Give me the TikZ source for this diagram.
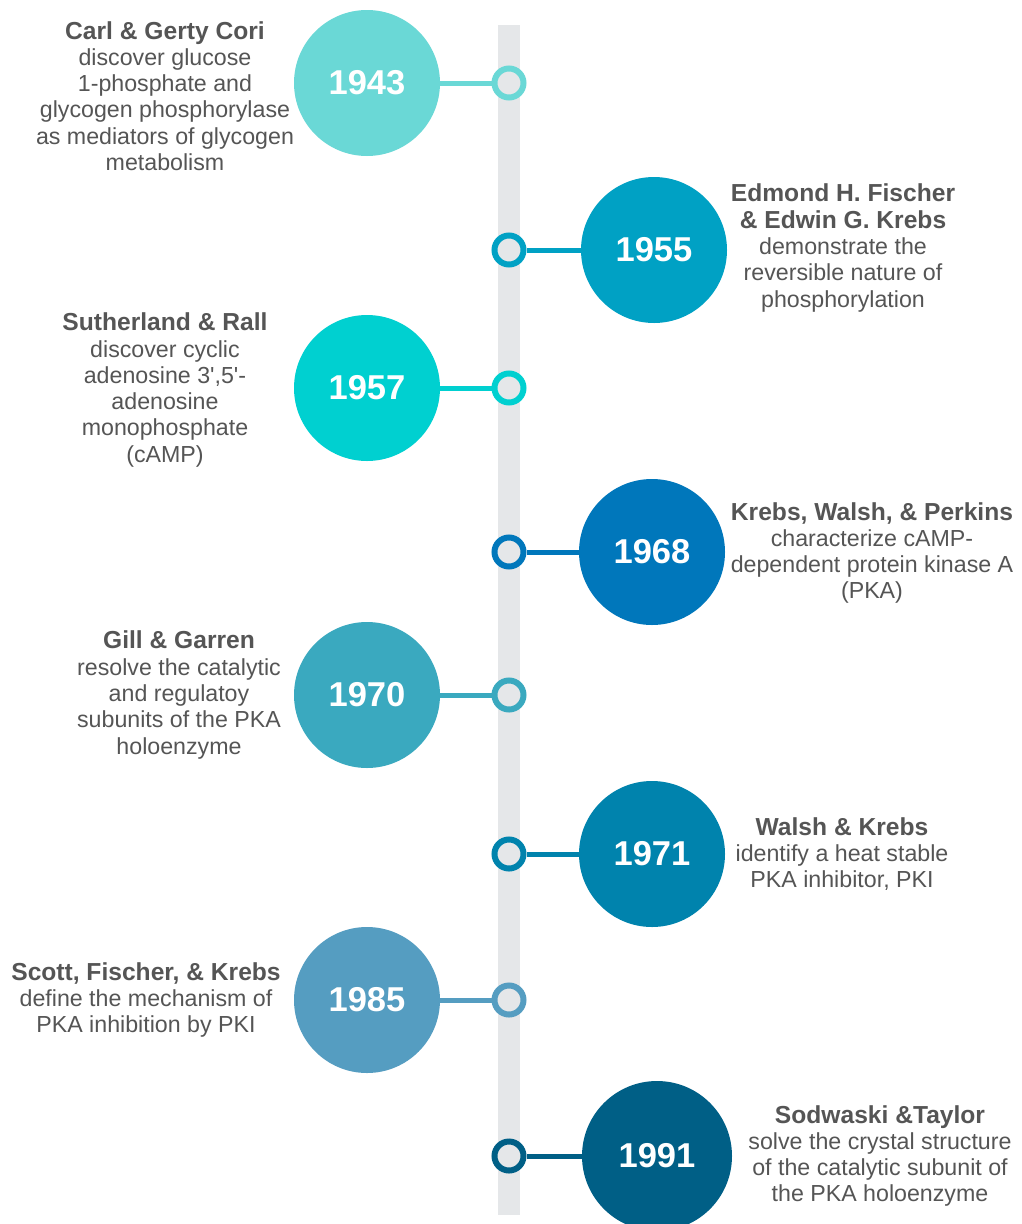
\documentclass[tikz,border=0pt]{standalone}
\usepackage{fontspec}
\setmainfont{Liberation Sans}
\definecolor{txt}{HTML}{555555}
\definecolor{barc}{HTML}{E5E7E9}
\definecolor{ca}{HTML}{6AD8D6}
\definecolor{cb}{HTML}{00A1C4}
\definecolor{cc}{HTML}{00D0D0}
\definecolor{cd}{HTML}{0077BB}
\definecolor{ce}{HTML}{3AA9BF}
\definecolor{cf}{HTML}{0083AD}
\definecolor{cg}{HTML}{559DC1}
\definecolor{ch}{HTML}{005F86}
\begin{document}
\begin{tikzpicture}[x=1pt,y=-1pt,
  yearc/.style={circle, minimum size=146pt, inner sep=0pt, text=white, font=\fontsize{34.5}{38}\selectfont\bfseries},
  ring/.style={circle, minimum size=29pt, inner sep=0pt, line width=6pt, fill=barc},
  conn/.style={line width=5pt},
  desc/.style={align=center, text=txt, font=\fontsize{23.2}{26.3}\selectfont, inner sep=0pt}]
\newcommand{\ttlt}[1]{{\fontsize{24.6}{28.5}\selectfont\bfseries #1}}
\useasboundingbox[fill=white] (0,0) rectangle (1021,1224);
\fill[barc] (498,25) rectangle (520,1215);
% 1943
\node[yearc, fill=ca] (y1) at (367,83) {1943};
\node[ring, draw=ca] (r1) at (509,83) {};
\draw[conn, ca] (r1) -- (y1);
\node[desc] (t1) at (165,96) {\ttlt{Carl \& Gerty Cori}\\discover glucose\\1-phosphate and\\glycogen phosphorylase\\as mediators of glycogen\\metabolism};
% 1955
\node[yearc, fill=cb] (y2) at (654,250) {1955};
\node[ring, draw=cb] (r2) at (509,250) {};
\draw[conn, cb] (r2) -- (y2);
\node[desc] (t2) at (843,248) {\ttlt{Edmond H. Fischer}\\\ttlt{\& Edwin G. Krebs}\\demonstrate the\\reversible nature of\\phosphorylation};
% 1957
\node[yearc, fill=cc] (y3) at (367,388) {1957};
\node[ring, draw=cc] (r3) at (509,388) {};
\draw[conn, cc] (r3) -- (y3);
\node[desc] (t3) at (165,390) {\ttlt{Sutherland \& Rall}\\discover cyclic\\adenosine 3\textquotesingle,5\textquotesingle-\\adenosine\\monophosphate\\(cAMP)};
% 1968
\node[yearc, fill=cd] (y4) at (652,552) {1968};
\node[ring, draw=cd] (r4) at (509,552) {};
\draw[conn, cd] (r4) -- (y4);
\node[desc] (t4) at (872,553) {\ttlt{Krebs, Walsh, \& Perkins}\\characterize cAMP-\\dependent protein kinase A\\(PKA)};
% 1970
\node[yearc, fill=ce] (y5) at (367,695) {1970};
\node[ring, draw=ce] (r5) at (509,695) {};
\draw[conn, ce] (r5) -- (y5);
\node[desc] (t5) at (179,695) {\ttlt{Gill \& Garren}\\resolve the catalytic\\and regulatoy\\subunits of the PKA\\holoenzyme};
% 1971
\node[yearc, fill=cf] (y6) at (652,854) {1971};
\node[ring, draw=cf] (r6) at (509,854) {};
\draw[conn, cf] (r6) -- (y6);
\node[desc] (t6) at (842,854) {\ttlt{Walsh \& Krebs}\\identify a heat stable\\PKA inhibitor, PKI};
% 1985
\node[yearc, fill=cg] (y7) at (367,1000) {1985};
\node[ring, draw=cg] (r7) at (509,1000) {};
\draw[conn, cg] (r7) -- (y7);
\node[desc] (t7) at (146,1000) {\ttlt{Scott, Fischer, \& Krebs}\\define the mechanism of\\PKA inhibition by PKI};
% 1991
\node[yearc, fill=ch, minimum size=150pt] (y8) at (657,1156) {1991};
\node[ring, draw=ch] (r8) at (509,1156) {};
\draw[conn, ch] (r8) -- (y8);
\node[desc] (t8) at (880,1156) {\ttlt{Sodwaski \&Taylor}\\solve the crystal structure\\of the catalytic subunit of\\the PKA holoenzyme};
\end{tikzpicture}
\end{document}
